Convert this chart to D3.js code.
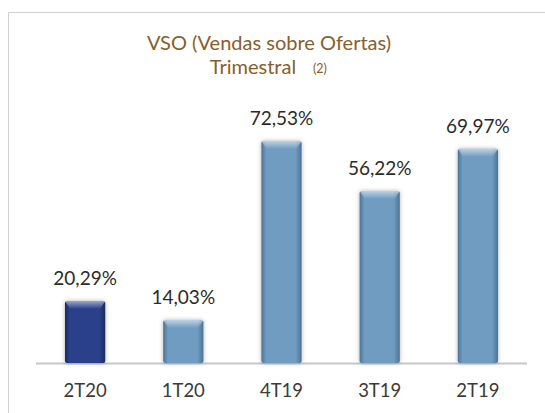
<!DOCTYPE html>
<html>
<head>
<meta charset="utf-8">
<script src="https://cdn.jsdelivr.net/npm/d3@7"></script>
<style>
  body { margin: 0; background: #fff; }
  text { font-family: Lato, "Open Sans", sans-serif; }
</style>
</head>
<body>
<div class="chart"></div>
<script>
var categories = ['2T20', '1T20', '4T19', '3T19', '2T19']
var values = [20.29, 14.03, 72.53, 56.22, 69.97]
var valueLabels = ['20,29%', '14,03%', '72,53%', '56,22%', '69,97%']
var highlight = ['2T20']

var width = 545
var height = 413
var margin = {top: 141, right: 18, bottom: 50, left: 36}
var baseline = height - margin.bottom

var svg = d3.select('.chart')
  .append('svg')
  .attr('width', width)
  .attr('height', height)

var defs = svg.append('defs')

// side shading for the bars (dark edges, lighter middle)
function sideGrad(id, edge, mid) {
  var g = defs.append('linearGradient').attr('id', id)
    .attr('x1', 0).attr('x2', 1).attr('y1', 0).attr('y2', 0)
  g.append('stop').attr('offset', '0%').attr('stop-color', edge)
  g.append('stop').attr('offset', '12%').attr('stop-color', mid)
  g.append('stop').attr('offset', '85%').attr('stop-color', mid)
  g.append('stop').attr('offset', '100%').attr('stop-color', edge)
}
sideGrad('gLight', '#4d7393', '#6f9cc1')
sideGrad('gDark', '#1a2a5e', '#2b418a')

var topGrad = defs.append('linearGradient').attr('id', 'gTop')
  .attr('x1', 0).attr('x2', 0).attr('y1', 0).attr('y2', 1)
topGrad.append('stop').attr('offset', '0%').attr('stop-color', '#fff').attr('stop-opacity', 0.55)
topGrad.append('stop').attr('offset', '100%').attr('stop-color', '#fff').attr('stop-opacity', 0)

var shadow = defs.append('filter').attr('id', 'shadow')
  .attr('x', '-30%').attr('y', '-10%').attr('width', '160%').attr('height', '130%')
shadow.append('feDropShadow').attr('dx', 0).attr('dy', 0).attr('stdDeviation', 2)
  .attr('flood-color', '#000').attr('flood-opacity', 0.3)

// frame (only top and left edges are in view)
svg.append('path')
  .attr('d', 'M8.5,' + height + 'V12.5H' + width)
  .attr('fill', 'none')
  .attr('stroke', '#d0d0d0')
  .attr('stroke-width', 1)

// title
svg.append('text')
  .attr('x', 269)
  .attr('y', 50)
  .attr('text-anchor', 'middle')
  .style('font-size', '20px')
  .style('fill', '#85602f')
  .text('VSO (Vendas sobre Ofertas)')

svg.append('text')
  .attr('x', 253)
  .attr('y', 74)
  .attr('text-anchor', 'middle')
  .style('font-size', '20px')
  .style('fill', '#85602f')
  .text('Trimestral')

svg.append('text')
  .attr('x', 313)
  .attr('y', 73)
  .style('font-size', '12.5px')
  .style('fill', '#85602f')
  .text('(2)')

var x = d3.scaleBand()
  .domain(categories)
  .range([margin.left, width - margin.right])
  .paddingInner(0.59)
  .paddingOuter(0.295)

var y = d3.scaleLinear()
  .domain([0, d3.max(values)])
  .range([baseline, margin.top])

var data = categories.map(function(c, i) {
  return {cat: c, value: values[i], label: valueLabels[i]}
})

// axis line
svg.append('line')
  .attr('x1', margin.left)
  .attr('x2', width - margin.right)
  .attr('y1', baseline + 0.5)
  .attr('y2', baseline + 0.5)
  .attr('stroke', '#c8c8c8')
  .attr('stroke-width', 2)

var bars = svg.selectAll('.bar')
  .data(data)
  .enter()
  .append('g')
  .attr('class', 'bar')

bars.append('rect')
  .attr('x', function(d) { return x(d.cat) })
  .attr('y', function(d) { return y(d.value) })
  .attr('width', x.bandwidth())
  .attr('height', function(d) { return baseline - y(d.value) })
  .attr('rx', 2)
  .attr('fill', function(d) { return highlight.indexOf(d.cat) >= 0 ? 'url(#gDark)' : 'url(#gLight)' })
  .attr('filter', 'url(#shadow)')

// bevel on top
bars.append('path')
  .attr('d', function(d) {
    var x0 = x(d.cat), w = x.bandwidth(), t = y(d.value)
    return 'M' + x0 + ',' + t + 'H' + (x0 + w) + 'L' + (x0 + w - 5) + ',' + (t + 8) +
      'H' + (x0 + 5) + 'Z'
  })
  .attr('fill', 'url(#gTop)')

bars.append('text')
  .attr('x', function(d) { return x(d.cat) + x.bandwidth() / 2 })
  .attr('y', function(d) { return y(d.value) - 16 })
  .attr('text-anchor', 'middle')
  .style('font-size', '19px')
  .style('fill', '#2b2b2b')
  .text(function(d) { return d.label })

var xAxis = svg.append('g')
  .attr('transform', 'translate(0,' + baseline + ')')
  .call(d3.axisBottom(x).tickSize(0).tickPadding(21))

xAxis.select('.domain').remove()
xAxis.selectAll('text')
  .style('font-size', '18.5px')
  .style('fill', '#3a3a3a')
  .style('font-family', 'Lato, "Open Sans", sans-serif')
</script>
</body>
</html>
